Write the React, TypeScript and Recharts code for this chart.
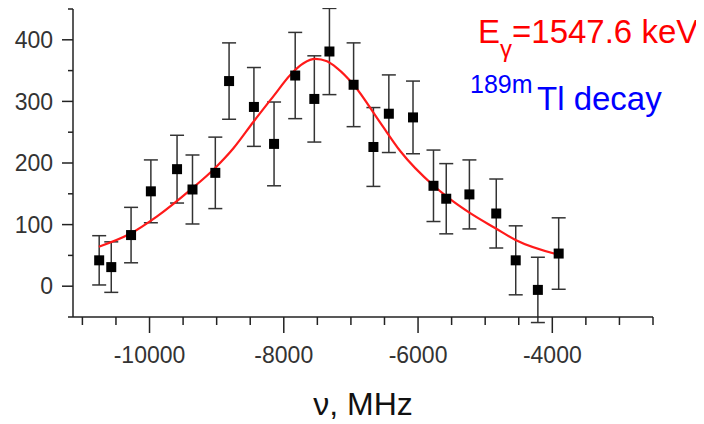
import { ComposedChart, Scatter, Line, XAxis, YAxis, ErrorBar } from "recharts";

// measured points (frequency offset, counts, 1-sigma error)
const pointFreq = [
  -10750, -10570, -10275, -9980, -9590, -9360, -9020, -8815, -8445, -8145, -7830, -7545,
  -7320, -6960, -6665, -6435, -6075, -5770, -5580, -5235, -4835, -4545, -4215, -3905,
];
const pointCounts = [
  42, 31, 83, 154, 190, 157, 184, 333, 291, 231, 342, 304,
  381, 327, 226, 280, 274, 163, 142, 149, 118, 42, -6, 53,
];
const pointErrors = [
  40, 41, 45, 51, 55, 56, 58, 62, 64, 68, 70, 70,
  70, 68, 64, 63, 59, 58, 57, 56, 56, 56, 53, 58,
];

// fit curve
const fitFreq = [
  -10755, -10291, -9893, -9396, -9023, -8750, -8451, -8150, -7904, -7706, -7531,
  -7356, -7207, -6960, -6561, -6263, -5766, -5566, -5229, -4846, -4547, -3906,
];
const fitCounts = [
  64, 85, 113, 156, 192, 224, 267, 309, 343, 362, 369,
  365, 354, 327, 265, 219, 163, 145, 119, 94, 75, 51,
];

const xTicks = [
  -11000, -10500, -10000, -9500, -9000, -8500, -8000, -7500, -7000, -6500, -6000,
  -5500, -5000, -4500, -4000, -3500, -3000, -2500,
];
const xLabels = [-10000, -8000, -6000, -4000];
const yTicks = [-50, 0, 50, 100, 150, 200, 250, 300, 350, 400, 450];
const yLabels = [0, 100, 200, 300, 400];

const points = pointFreq.map((x, i) => ({ x, y: pointCounts[i], err: pointErrors[i] }));
const fit = fitFreq.map((x, i) => ({ x, y: fitCounts[i] }));

const FONT = '"Liberation Sans", Arial, sans-serif';
const AXIS = "#222";

const XTick = (props: any) => {
  const { x, y, payload } = props;
  const major = xLabels.includes(payload.value);
  return (
    <g>
      <line x1={x} x2={x} y1={y} y2={y + (major ? 16 : 8)} stroke={AXIS} strokeWidth={1.5} />
      {major && (
        <text x={x} y={y + 46} textAnchor="middle" fontSize={23} fill="#333" fontFamily={FONT}>
          {payload.value}
        </text>
      )}
    </g>
  );
};

const YTick = (props: any) => {
  const { x, y, payload } = props;
  const major = yLabels.includes(payload.value);
  return (
    <g>
      <line x1={x - (major ? 11 : 5)} x2={x} y1={y} y2={y} stroke={AXIS} strokeWidth={1.5} />
      {major && (
        <text x={x - 20} y={y} dy="0.36em" textAnchor="end" fontSize={23} fill="#333" fontFamily={FONT}>
          {payload.value}
        </text>
      )}
    </g>
  );
};

const Square = (props: any) => {
  const { cx, cy } = props;
  if (cx == null || cy == null) return null;
  return <rect x={cx - 5} y={cy - 5} width={10} height={10} fill="#000" />;
};

export default function App() {
  return (
    <div style={{ position: "relative", width: 688, height: 416 }}>
      <ComposedChart width={688} height={416} margin={{ top: 1, right: 43, bottom: 0, left: 0 }}>
        <XAxis
          type="number"
          dataKey="x"
          domain={[-11140, -2500]}
          ticks={xTicks}
          interval={0}
          allowDataOverflow
          height={107}
          tickSize={0}
          tickMargin={0}
          tickLine={false}
          tick={XTick}
          axisLine={{ stroke: AXIS, strokeWidth: 1.5 }}
          label={{ value: "ν, MHz", position: "insideBottom", offset: 9, fontSize: 32, fill: "#111", fontFamily: FONT }}
        />
        <YAxis
          type="number"
          dataKey="y"
          domain={[-50, 450]}
          ticks={yTicks}
          interval={0}
          allowDataOverflow
          width={65}
          tickSize={0}
          tickMargin={0}
          tickLine={false}
          tick={YTick}
          axisLine={{ stroke: AXIS, strokeWidth: 1.5 }}
        />
        <Scatter data={points} dataKey="y" shape={Square} isAnimationActive={false}>
          <ErrorBar dataKey="err" direction="y" width={7} stroke="#333" strokeWidth={1.5} />
        </Scatter>
        <Line
          data={fit}
          dataKey="y"
          type="monotone"
          stroke="#ff1a1a"
          strokeWidth={2.2}
          dot={false}
          activeDot={false}
          isAnimationActive={false}
        />
      </ComposedChart>
      <svg
        width={696}
        height={416}
        style={{ position: "absolute", left: 0, top: 0, pointerEvents: "none" }}
        fontFamily={FONT}
      >
        <text x={470} y={35} fontSize={33} fill="#ff0000">
          E
          <tspan fontSize={24} dy={14}>γ</tspan>
          <tspan fontSize={33} dy={-14}>=1547.6 keV</tspan>
        </text>
        <text x={462} y={85} fontSize={25} fill="#0000ff">189m</text>
        <text x={529} y={102} fontSize={33} fill="#0000ff">Tl decay</text>
      </svg>
    </div>
  );
}
